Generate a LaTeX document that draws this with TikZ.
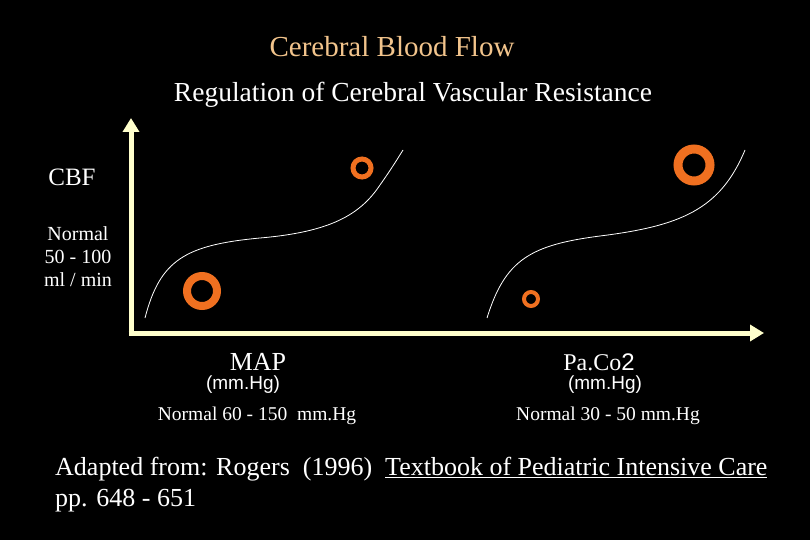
\documentclass[tikz,border=0pt]{standalone}
\usepackage{fontspec}
\setmainfont{Liberation Serif}
\setsansfont{Liberation Sans}
\usetikzlibrary{arrows.meta}
\definecolor{cream}{HTML}{FFFFCC}
\definecolor{peach}{HTML}{F2C48C}
\definecolor{ring}{HTML}{F07020}
\begin{document}
\begin{tikzpicture}[x=1pt,y=-1pt,
  txt/.style={text=white,inner sep=0pt},
  axis/.style={cream,line width=5pt,-{Triangle[length=14pt,width=16pt]}},
  curve/.style={white,line width=0.8pt}]
\fill[black] (0,0) rectangle (810,540);
\node[txt,text=peach,font=\fontsize{29}{32}\selectfont] (title) at (392,47) {Cerebral Blood Flow};
\node[txt,font=\fontsize{27.5}{30}\selectfont] (sub) at (413,95) {Regulation of Cerebral Vascular Resistance};
\coordinate (o) at (131,333);
\coordinate (ytop) at (131,118);
\coordinate (xend) at (764,333);
\draw[axis] (o) -- (ytop);
\draw[axis] ([xshift=-2.5pt]o) -- (xend);
\node[txt,font=\fontsize{25}{28}\selectfont] (cbf) at (72,177) {CBF};
\node[txt,font=\fontsize{20}{23}\selectfont,align=center] (norm) at (78,257) {Normal\\50 - 100\\ml / min};
\draw[curve] (145,318) .. controls (160,260) and (185,245) .. (260,238)
  .. controls (330,232) and (360,215) .. (380,185) .. controls (392,168) and (398,158) .. (403,150);
\draw[curve] (487,318) .. controls (505,260) and (530,245) .. (600,236)
  .. controls (680,226) and (720,210) .. (745,150);
\foreach \n/\x/\y/\r/\w in {c1/362/168/9/5, c2/202/291/15/8, c3/531/299/7/4, c4/694/165/16/9}
  \draw[ring,line width=\w pt] (\x,\y) circle (\r);
\node[txt,font=\fontsize{26}{28}\selectfont] (map) at (258,362) {MAP};
\node[txt,font=\sffamily\fontsize{19}{22}\selectfont] (mm1) at (243,385) {(mm.Hg)};
\node[txt,font=\fontsize{19.5}{22}\selectfont] (n1) at (257,416) {Normal 60 - 150\ \ mm.Hg};
\node[txt,font=\fontsize{24}{28}\selectfont] (pa) at (599,362) {Pa.Co{\sffamily 2}};
\node[txt,font=\sffamily\fontsize{19}{22}\selectfont] (mm2) at (605,385) {(mm.Hg)};
\node[txt,font=\fontsize{19.5}{22}\selectfont] (n2) at (608,416) {Normal 30 - 50 mm.Hg};
\node[txt,font=\fontsize{26}{31}\selectfont,anchor=north west,align=left] (ref) at (55,457)
 {Adapted from: Rogers\ \ (1996)\ \ \underline{Textbook of Pediatric Intensive Care}\\pp. 648 - 651};
\end{tikzpicture}
\end{document}
